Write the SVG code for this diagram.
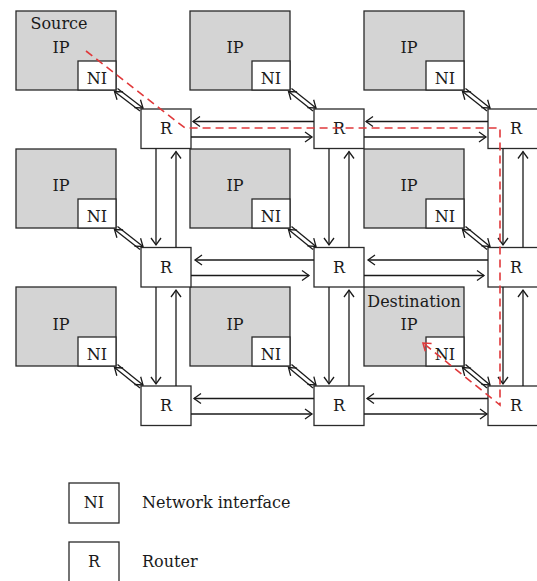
<svg xmlns="http://www.w3.org/2000/svg" width="537" height="581" viewBox="0 0 537 581">
<style>
.ip{fill:#d4d4d4;stroke:#2a2a2a;stroke-width:1.3}
.box{fill:#fff;stroke:#2a2a2a;stroke-width:1.3}
.t{font-family:"DejaVu Serif","Liberation Serif",serif;font-size:16px;fill:#1a1a1a}
.c{text-anchor:middle}
.ln{fill:none;stroke:#1a1a1a;stroke-width:1.3;marker-end:url(#ah)}
.rd{fill:none;stroke:#e0393b;stroke-width:1.6;stroke-dasharray:8 5}
</style>
<defs>
<marker id="ah" markerUnits="userSpaceOnUse" markerWidth="14" markerHeight="14" viewBox="-10 -7 12 14" refX="0" refY="0" orient="auto" overflow="visible">
<path d="M-7,-5 L0,0 L-7,5" fill="none" stroke="#1a1a1a" stroke-width="1.3"/>
</marker>
<marker id="ahr" markerUnits="userSpaceOnUse" markerWidth="14" markerHeight="14" viewBox="-10 -7 12 14" refX="0" refY="0" orient="auto" overflow="visible">
<path d="M-7,-5 L0,0 L-7,5" fill="none" stroke="#e0393b" stroke-width="1.6"/>
</marker>
</defs>
<rect width="537" height="581" fill="#fff"/>

<!-- IP nodes -->
<g id="ip-1-1"><rect class="ip" x="16" y="11" width="100" height="79"/><rect class="box" x="78" y="61" width="38" height="29"/><text class="t c" x="59" y="29">Source</text><text class="t c" x="61" y="53">IP</text><text class="t c" x="97" y="84">NI</text></g>
<g id="ip-1-2"><rect class="ip" x="190" y="11" width="100" height="79"/><rect class="box" x="252" y="61" width="38" height="29"/><text class="t c" x="235" y="53">IP</text><text class="t c" x="271" y="84">NI</text></g>
<g id="ip-1-3"><rect class="ip" x="364" y="11" width="100" height="79"/><rect class="box" x="426" y="61" width="38" height="29"/><text class="t c" x="409" y="53">IP</text><text class="t c" x="445" y="84">NI</text></g>
<g id="ip-2-1"><rect class="ip" x="16" y="149" width="100" height="79"/><rect class="box" x="78" y="199" width="38" height="29"/><text class="t c" x="61" y="191">IP</text><text class="t c" x="97" y="222">NI</text></g>
<g id="ip-2-2"><rect class="ip" x="190" y="149" width="100" height="79"/><rect class="box" x="252" y="199" width="38" height="29"/><text class="t c" x="235" y="191">IP</text><text class="t c" x="271" y="222">NI</text></g>
<g id="ip-2-3"><rect class="ip" x="364" y="149" width="100" height="79"/><rect class="box" x="426" y="199" width="38" height="29"/><text class="t c" x="409" y="191">IP</text><text class="t c" x="445" y="222">NI</text></g>
<g id="ip-3-1"><rect class="ip" x="16" y="287" width="100" height="79"/><rect class="box" x="78" y="337" width="38" height="29"/><text class="t c" x="61" y="330">IP</text><text class="t c" x="97" y="360">NI</text></g>
<g id="ip-3-2"><rect class="ip" x="190" y="287" width="100" height="79"/><rect class="box" x="252" y="337" width="38" height="29"/><text class="t c" x="235" y="330">IP</text><text class="t c" x="271" y="360">NI</text></g>
<g id="ip-3-3"><rect class="ip" x="364" y="287" width="100" height="79"/><rect class="box" x="426" y="337" width="38" height="29"/><text class="t c" x="414" y="307">Destination</text><text class="t c" x="409" y="330">IP</text><text class="t c" x="445" y="360">NI</text></g>

<!-- Routers -->
<g id="r-1-1"><rect class="box" x="141" y="109" width="50" height="39.5"/><text class="t c" x="166" y="134">R</text></g>
<g id="r-1-2"><rect class="box" x="314" y="109" width="50" height="39.5"/><text class="t c" x="339" y="134">R</text></g>
<g id="r-1-3"><rect class="box" x="488" y="109" width="55" height="39.5"/><text class="t c" x="516" y="134">R</text></g>
<g id="r-2-1"><rect class="box" x="141" y="247.5" width="50" height="39.5"/><text class="t c" x="166" y="273">R</text></g>
<g id="r-2-2"><rect class="box" x="314" y="247.5" width="50" height="39.5"/><text class="t c" x="339" y="273">R</text></g>
<g id="r-2-3"><rect class="box" x="488" y="247.5" width="55" height="39.5"/><text class="t c" x="516" y="273">R</text></g>
<g id="r-3-1"><rect class="box" x="141" y="386" width="50" height="39.5"/><text class="t c" x="166" y="411">R</text></g>
<g id="r-3-2"><rect class="box" x="314" y="386" width="50" height="39.5"/><text class="t c" x="339" y="411">R</text></g>
<g id="r-3-3"><rect class="box" x="488" y="386" width="55" height="39.5"/><text class="t c" x="516" y="411">R</text></g>

<!-- Connectors -->
<g id="connectors">
<path class="ln" d="M314,121.5 L193,121.5"/><path class="ln" d="M191,137 L312,137"/>
<path class="ln" d="M488,121.5 L366,121.5"/><path class="ln" d="M364,137 L486,137"/>
<path class="ln" d="M314,260 L195,260"/><path class="ln" d="M191,275.5 L309,275.5"/>
<path class="ln" d="M488,260 L368,260"/><path class="ln" d="M364,275.5 L484,275.5"/>
<path class="ln" d="M314,398.5 L194,398.5"/><path class="ln" d="M191,414 L312,414"/>
<path class="ln" d="M488,398.5 L367,398.5"/><path class="ln" d="M364,414 L487,414"/>
<path class="ln" d="M156,148.5 L156,245"/><path class="ln" d="M176,247.5 L176,151.5"/>
<path class="ln" d="M329,148.5 L329,245"/><path class="ln" d="M349,247.5 L349,151.5"/>
<path class="ln" d="M503,148.5 L503,245"/><path class="ln" d="M523,247.5 L523,151.5"/>
<path class="ln" d="M156,287 L156,384"/><path class="ln" d="M176,386 L176,290"/>
<path class="ln" d="M329,287 L329,384"/><path class="ln" d="M349,386 L349,290"/>
<path class="ln" d="M503,287 L503,384"/><path class="ln" d="M523,386 L523,290"/>
<path class="ln" d="M117.5,88.5 L143,108"/><path class="ln" d="M140,111 L114.5,91.5"/>
<path class="ln" d="M291.5,88.5 L316,108"/><path class="ln" d="M313,111 L288.5,91.5"/>
<path class="ln" d="M465.5,88.5 L490,108"/><path class="ln" d="M487,111 L462.5,91.5"/>
<path class="ln" d="M117.5,226.5 L143,246.5"/><path class="ln" d="M140,249.5 L114.5,229.5"/>
<path class="ln" d="M291.5,226.5 L316,246.5"/><path class="ln" d="M313,249.5 L288.5,229.5"/>
<path class="ln" d="M465.5,226.5 L490,246.5"/><path class="ln" d="M487,249.5 L462.5,229.5"/>
<path class="ln" d="M117.5,364.5 L143,385"/><path class="ln" d="M140,388 L114.5,367.5"/>
<path class="ln" d="M291.5,364.5 L316,385"/><path class="ln" d="M313,388 L288.5,367.5"/>
<path class="ln" d="M465.5,364.5 L490,385"/><path class="ln" d="M487,388 L462.5,367.5"/>
<path class="rd" d="M86,51 L185,128 L500,128 L500,405 L423,343" marker-end="url(#ahr)"/>
</g>

<!-- Legend -->
<g id="legend-ni"><rect class="box" x="69" y="483" width="50" height="40"/><text class="t c" x="94" y="508">NI</text><text class="t" x="142" y="508">Network interface</text></g>
<g id="legend-r"><rect class="box" x="69" y="542" width="50" height="40"/><text class="t c" x="94" y="567">R</text><text class="t" x="142" y="567">Router</text></g>
</svg>
